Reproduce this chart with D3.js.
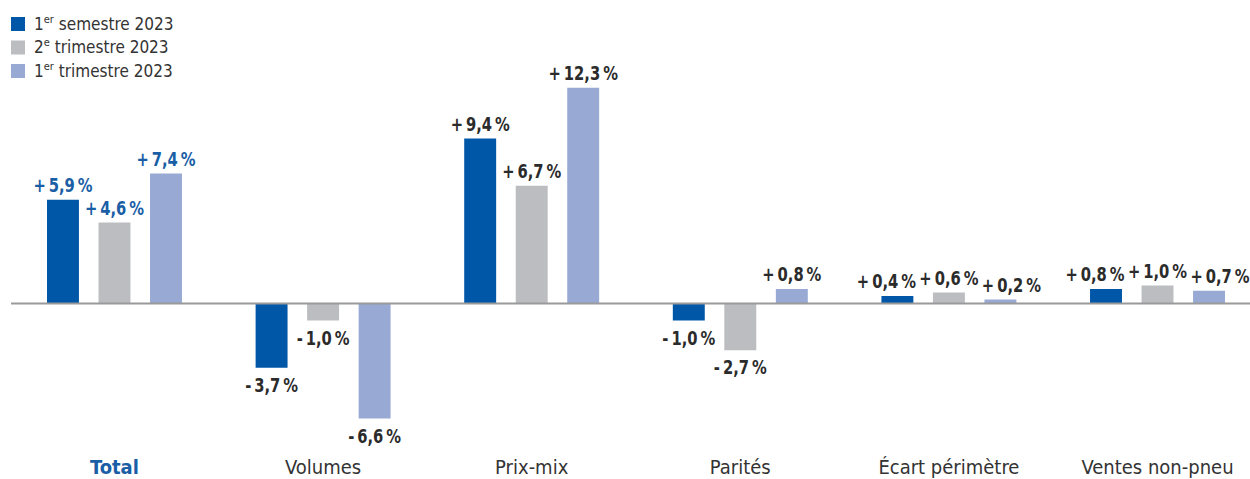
<!DOCTYPE html>
<html>
<head>
<meta charset="utf-8">
<script src="https://cdn.jsdelivr.net/npm/d3@7"></script>
<style>
  body { margin: 0; background: #fff; }
  svg { font-family: "Liberation Sans Narrow", "DejaVu Sans Condensed", "Roboto", sans-serif; }
</style>
</head>
<body>
<div id="chart"></div>
<script>
let categories = ['Total', 'Volumes', 'Prix-mix', 'Parités', 'Écart périmètre', 'Ventes non-pneu'];
let seriesNames = [['1', 'er', ' semestre 2023'], ['2', 'e', ' trimestre 2023'], ['1', 'er', ' trimestre 2023']];
let semestre1 = [5.9, -3.7, 9.4, -1.0, 0.4, 0.8];
let trimestre2 = [4.6, -1.0, 6.7, -2.7, 0.6, 1.0];
let trimestre1 = [7.4, -6.6, 12.3, 0.8, 0.2, 0.7];
let colors = ['#0057a8', '#bcbdc0', '#98a9d4'];

let width = 1250, height = 479;
let series = [semestre1, trimestre2, trimestre1];

let svg = d3.select('#chart').append('svg').attr('width', width).attr('height', height);

let x = d3.scaleBand().domain(categories).range([47, 1225]).paddingInner(0.353).paddingOuter(0);
let xi = d3.scaleBand().domain([0, 1, 2]).range([0, x.bandwidth()]).paddingInner(0.38).paddingOuter(0);
let y = d3.scaleLinear().domain([-8, 14]).range([443, 58]);

let fmt = v => (v < 0 ? '-\u2009' : '+\u2009') + d3.format('.1f')(Math.abs(v)).replace('.', ',') + '\u2009%';

// legend
let legend = svg.append('g').attr('class', 'legend');
seriesNames.forEach((s, i) => {
    let g = legend.append('g').attr('transform', `translate(11,${17 + i * 23.5})`);
    g.append('rect').attr('width', 14).attr('height', 14).attr('fill', colors[i]);
    let t = g.append('text').attr('x', 23).attr('y', 12.5).attr('font-size', 17).attr('fill', '#333');
    t.append('tspan').text(s[0]);
    t.append('tspan').attr('dy', -7).attr('font-size', 11).text(s[1]);
    t.append('tspan').attr('dy', 7).text(s[2]);
});

// bars
let groups = svg.selectAll('g.cat')
    .data(categories)
    .join('g')
    .attr('class', 'cat')
    .attr('transform', d => `translate(${x(d)},0)`);

groups.each(function(cat, ci) {
    let g = d3.select(this);
    let vals = series.map(s => s[ci]);
    // when the three bars are nearly level, spread the outer labels apart
    let tight = vals.every(v => v > 0) && (d3.max(vals) - d3.min(vals)) < 1.5;
    series.forEach((s, si) => {
        let v = s[ci];
        g.append('rect')
            .attr('x', xi(si))
            .attr('width', xi.bandwidth())
            .attr('y', y(Math.max(0, v)))
            .attr('height', Math.abs(y(v) - y(0)))
            .attr('fill', colors[si]);
        let dx = tight ? (si - 1) * 11 : 0;
        // labels squeezed horizontally to mimic the condensed font
        g.append('text')
            .attr('transform', `translate(${xi(si) + xi.bandwidth() / 2 + dx},${v >= 0 ? y(v) - 8 : y(v) + 24}) scale(0.82,1)`)
            .attr('text-anchor', 'middle')
            .attr('font-size', 20)
            .attr('font-weight', 'bold')
            .attr('fill', ci === 0 ? '#1a5ea6' : '#2b2b2b')
            .text(fmt(v));
    });
});

// zero line
svg.append('line')
    .attr('x1', 11).attr('x2', width)
    .attr('y1', y(0) + 0.5).attr('y2', y(0) + 0.5)
    .attr('stroke', '#9a9a9a').attr('stroke-width', 2);

// category labels
svg.selectAll('text.catlabel')
    .data(categories)
    .join('text')
    .attr('class', 'catlabel')
    .attr('x', d => x(d) + x.bandwidth() / 2)
    .attr('y', 474)
    .attr('text-anchor', 'middle')
    .attr('font-size', 20)
    .attr('font-weight', (d, i) => i === 0 ? 'bold' : 'normal')
    .attr('fill', (d, i) => i === 0 ? '#1a5ea6' : '#333')
    .text(d => d);
</script>
</body>
</html>
